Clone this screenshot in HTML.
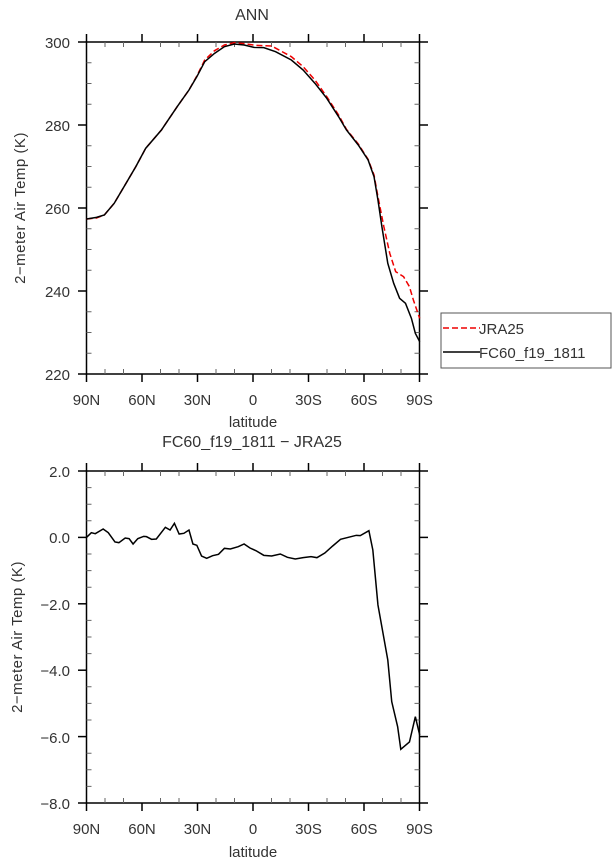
<!DOCTYPE html>
<html><head><meta charset="utf-8"><style>
html,body{margin:0;padding:0;background:#fff;}
svg{display:block;font-family:"Liberation Sans",sans-serif;}
text{fill:#333;}
</style></head><body>
<svg width="614" height="862" viewBox="0 0 614 862" xmlns="http://www.w3.org/2000/svg">
<g id="top">
<text x="252" y="20" font-size="16" text-anchor="middle">ANN</text>
<rect x="86.5" y="42" width="333" height="332" fill="none" stroke="#000" stroke-width="1.5"/>
<g stroke="#000" stroke-width="1.5">
<line x1="86.5" y1="34" x2="86.5" y2="42"/><line x1="142" y1="34" x2="142" y2="42"/><line x1="197.5" y1="34" x2="197.5" y2="42"/><line x1="253" y1="34" x2="253" y2="42"/><line x1="308.5" y1="34" x2="308.5" y2="42"/><line x1="364" y1="34" x2="364" y2="42"/><line x1="419.5" y1="34" x2="419.5" y2="42"/>
<line x1="86.5" y1="374" x2="86.5" y2="382"/><line x1="142" y1="374" x2="142" y2="382"/><line x1="197.5" y1="374" x2="197.5" y2="382"/><line x1="253" y1="374" x2="253" y2="382"/><line x1="308.5" y1="374" x2="308.5" y2="382"/><line x1="364" y1="374" x2="364" y2="382"/><line x1="419.5" y1="374" x2="419.5" y2="382"/>
<line x1="78" y1="42" x2="86.5" y2="42"/><line x1="78" y1="125" x2="86.5" y2="125"/><line x1="78" y1="208" x2="86.5" y2="208"/><line x1="78" y1="291" x2="86.5" y2="291"/><line x1="78" y1="374" x2="86.5" y2="374"/>
<line x1="419.5" y1="42" x2="428" y2="42"/><line x1="419.5" y1="125" x2="428" y2="125"/><line x1="419.5" y1="208" x2="428" y2="208"/><line x1="419.5" y1="291" x2="428" y2="291"/><line x1="419.5" y1="374" x2="428" y2="374"/>
</g>
<g stroke="#666" stroke-width="1">
<path d="M105 42v5M123.5 42v5M160.5 42v5M179 42v5M216 42v5M234.5 42v5M271.5 42v5M290 42v5M327 42v5M345.5 42v5M382.5 42v5M401 42v5"/>
<path d="M105 374v-5M123.5 374v-5M160.5 374v-5M179 374v-5M216 374v-5M234.5 374v-5M271.5 374v-5M290 374v-5M327 374v-5M345.5 374v-5M382.5 374v-5M401 374v-5"/>
<path d="M86.5 62.75h5M86.5 83.5h5M86.5 104.25h5M86.5 145.75h5M86.5 166.5h5M86.5 187.25h5M86.5 228.75h5M86.5 249.5h5M86.5 270.25h5M86.5 311.75h5M86.5 332.5h5M86.5 353.25h5"/>
<path d="M419.5 62.75h-5M419.5 83.5h-5M419.5 104.25h-5M419.5 145.75h-5M419.5 166.5h-5M419.5 187.25h-5M419.5 228.75h-5M419.5 249.5h-5M419.5 270.25h-5M419.5 311.75h-5M419.5 332.5h-5M419.5 353.25h-5"/>
</g>
<g font-size="15" text-anchor="end">
<text x="70" y="48">300</text><text x="70" y="131">280</text><text x="70" y="214">260</text><text x="70" y="297">240</text><text x="70" y="380">220</text>
</g>
<g font-size="15" text-anchor="middle">
<text x="86.5" y="405">90N</text><text x="142" y="405">60N</text><text x="197.5" y="405">30N</text><text x="253" y="405">0</text><text x="308.5" y="405">30S</text><text x="364" y="405">60S</text><text x="419.5" y="405">90S</text>
<text x="253" y="427">latitude</text>
</g>
<text transform="translate(25,208) rotate(-90)" font-size="15" text-anchor="middle" letter-spacing="0.5">2−meter Air Temp (K)</text>
<g transform="scale(0.3937,0.33333)" fill="none">
<polyline vector-effect="non-scaling-stroke" stroke="#e00" stroke-width="1.5" stroke-dasharray="6,3" points="220,657 245,654 265,645 290,610 320,550 345,500 370,445 410,390 450,320 480,270 500,228 520,180 545,152 570,135 595,128 620,131 650,136 690,138 740,170 770,200 800,240 830,290 860,345 880,388 910,432 935,478 950,525 960,590 975,680 990,760 1005,815 1025,830 1040,860 1050,900 1066,955"/>
<polyline vector-effect="non-scaling-stroke" stroke="#000" stroke-width="1.5" points="220,657 245,652 265,645 290,610 320,550 345,500 370,445 410,390 450,320 480,270 500,230 520,185 545,160 570,140 595,132 620,135 645,142 670,143 700,155 740,180 770,210 800,250 830,295 860,350 880,390 910,435 935,480 950,530 960,600 970,680 985,790 1000,850 1015,895 1030,910 1045,955 1055,1000 1066,1025"/>
</g>
</g>
<rect x="441" y="313" width="170" height="55" fill="#fff" stroke="#555" stroke-width="1"/>
<line x1="443" y1="328" x2="480" y2="328" stroke="#e00" stroke-width="1.5" stroke-dasharray="6,3"/>
<line x1="443" y1="352" x2="480" y2="352" stroke="#000" stroke-width="1.5"/>
<text x="479" y="334" font-size="15">JRA25</text>
<text x="479" y="358" font-size="15">FC60_f19_1811</text>

<g id="bottom">
<text x="252" y="447" font-size="16" text-anchor="middle">FC60_f19_1811 − JRA25</text>
<rect x="86.5" y="471" width="333" height="332" fill="none" stroke="#000" stroke-width="1.5"/>
<g stroke="#000" stroke-width="1.5">
<line x1="86.5" y1="463" x2="86.5" y2="471"/><line x1="142" y1="463" x2="142" y2="471"/><line x1="197.5" y1="463" x2="197.5" y2="471"/><line x1="253" y1="463" x2="253" y2="471"/><line x1="308.5" y1="463" x2="308.5" y2="471"/><line x1="364" y1="463" x2="364" y2="471"/><line x1="419.5" y1="463" x2="419.5" y2="471"/>
<line x1="86.5" y1="803" x2="86.5" y2="811"/><line x1="142" y1="803" x2="142" y2="811"/><line x1="197.5" y1="803" x2="197.5" y2="811"/><line x1="253" y1="803" x2="253" y2="811"/><line x1="308.5" y1="803" x2="308.5" y2="811"/><line x1="364" y1="803" x2="364" y2="811"/><line x1="419.5" y1="803" x2="419.5" y2="811"/>
<line x1="78" y1="471" x2="86.5" y2="471"/><line x1="78" y1="537.4" x2="86.5" y2="537.4"/><line x1="78" y1="603.8" x2="86.5" y2="603.8"/><line x1="78" y1="670.2" x2="86.5" y2="670.2"/><line x1="78" y1="736.6" x2="86.5" y2="736.6"/><line x1="78" y1="803" x2="86.5" y2="803"/>
<line x1="419.5" y1="471" x2="428" y2="471"/><line x1="419.5" y1="537.4" x2="428" y2="537.4"/><line x1="419.5" y1="603.8" x2="428" y2="603.8"/><line x1="419.5" y1="670.2" x2="428" y2="670.2"/><line x1="419.5" y1="736.6" x2="428" y2="736.6"/><line x1="419.5" y1="803" x2="428" y2="803"/>
</g>
<g stroke="#666" stroke-width="1">
<path d="M105 471v5M123.5 471v5M160.5 471v5M179 471v5M216 471v5M234.5 471v5M271.5 471v5M290 471v5M327 471v5M345.5 471v5M382.5 471v5M401 471v5"/>
<path d="M105 803v-5M123.5 803v-5M160.5 803v-5M179 803v-5M216 803v-5M234.5 803v-5M271.5 803v-5M290 803v-5M327 803v-5M345.5 803v-5M382.5 803v-5M401 803v-5"/>
<path d="M86.5 487.6h5M86.5 504.2h5M86.5 520.8h5M86.5 554h5M86.5 570.6h5M86.5 587.2h5M86.5 620.4h5M86.5 637h5M86.5 653.6h5M86.5 686.8h5M86.5 703.4h5M86.5 720h5M86.5 753.2h5M86.5 769.8h5M86.5 786.4h5"/>
<path d="M419.5 487.6h-5M419.5 504.2h-5M419.5 520.8h-5M419.5 554h-5M419.5 570.6h-5M419.5 587.2h-5M419.5 620.4h-5M419.5 637h-5M419.5 653.6h-5M419.5 686.8h-5M419.5 703.4h-5M419.5 720h-5M419.5 753.2h-5M419.5 769.8h-5M419.5 786.4h-5"/>
</g>
<g font-size="15" text-anchor="end">
<text x="70" y="477">2.0</text><text x="70" y="543">0.0</text><text x="70" y="610">−2.0</text><text x="70" y="676">−4.0</text><text x="70" y="743">−6.0</text><text x="70" y="809">−8.0</text>
</g>
<g font-size="15" text-anchor="middle">
<text x="86.5" y="834">90N</text><text x="142" y="834">60N</text><text x="197.5" y="834">30N</text><text x="253" y="834">0</text><text x="308.5" y="834">30S</text><text x="364" y="834">60S</text><text x="419.5" y="834">90S</text>
<text x="253" y="857">latitude</text>
</g>
<text transform="translate(22,637) rotate(-90)" font-size="15" text-anchor="middle" letter-spacing="0.5">2−meter Air Temp (K)</text>
<g transform="translate(0,430) scale(0.3937,0.33333)" fill="none">
<polyline vector-effect="non-scaling-stroke" stroke="#000" stroke-width="1.5" points="220,322 232,308 242,311 262,297 275,308 292,336 302,338 318,324 328,326 338,342 350,326 365,319 372,320 385,328 397,327 420,292 432,300 443,280 455,312 467,310 480,300 490,342 500,346 512,378 525,385 540,377 555,373 570,355 585,357 605,350 620,342 635,354 650,362 670,376 690,378 712,372 730,382 750,387 770,383 790,380 805,383 825,369 845,348 865,328 885,322 905,316 915,317 937,302 947,360 960,525 985,690 995,815 1010,890 1018,958 1040,936 1055,860 1066,915"/>
</g>
</g>
</svg>
</body></html>
